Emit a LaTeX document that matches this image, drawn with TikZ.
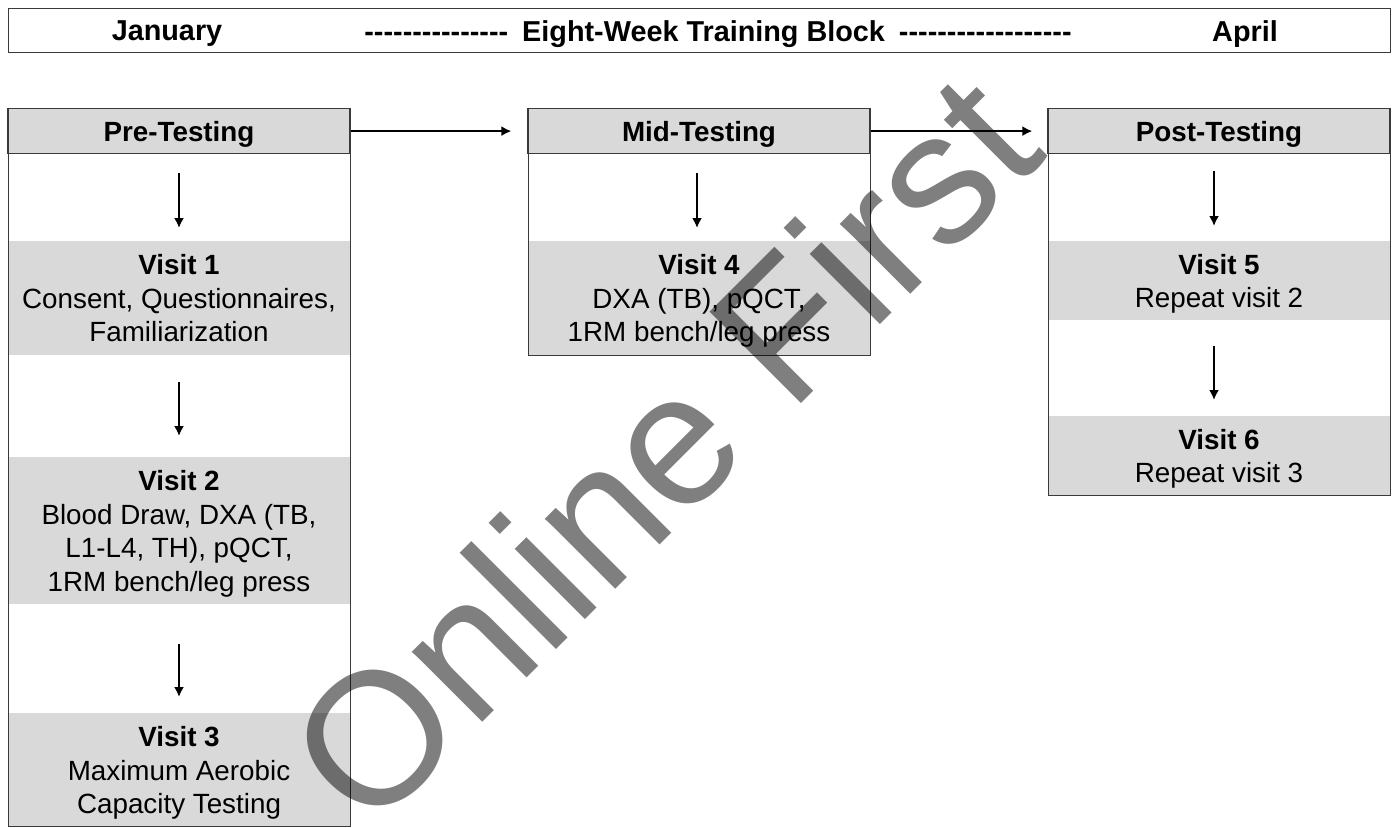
\documentclass[tikz,border=0pt]{standalone}
\usepackage{fontspec}
\setmainfont{Liberation Sans}
\usetikzlibrary{arrows.meta}
\definecolor{bandgray}{HTML}{D9D9D9}
\definecolor{edge}{HTML}{3A3A3A}
% a run of literal hyphens (kept apart so they are not joined into dashes)
\newcommand\dashrun[1]{\foreach \k in {1,...,#1}{\mbox{-}}}

\begin{document}
\begin{tikzpicture}[x=0.5pt,y=-0.5pt,
  every node/.style={inner sep=0pt, font=\fontsize{13.9}{16.75}\selectfont},
  band/.style={fill=bandgray, minimum width=171pt, align=center, anchor=north, text depth=0pt},
  hdr/.style={fill=bandgray, draw=edge, line width=0.6pt, minimum width=171pt, text depth=0pt,
    minimum height=22.5pt, anchor=north, font=\fontsize{13.9}{16.75}\selectfont\bfseries},
  colframe/.style={draw=edge, line width=0.6pt, minimum width=171pt, anchor=north west},
  arr/.style={line width=1pt, -{Latex[length=5pt,width=5pt]}},
  barlabel/.style={font=\fontsize{14.4}{17}\selectfont\bfseries, text depth=0pt},
]
\useasboundingbox (0,0) rectangle (1398,827);

% timeline bar
\node[draw=edge, line width=0.6pt, minimum width=691pt, minimum height=22pt,
  anchor=north west] (bar) at (8,8) {};
\node[barlabel] (jan) at (167,31) {January};
\node[barlabel] (block) at (718,31) {\dashrun{15}\hspace{7pt}Eight-Week Training Block\hspace{7pt}\dashrun{18}};
\node[barlabel] (apr) at (1245,31) {April};

% grey visit bands
\node[band, minimum height=57pt] (v1) at (179,241)
  {\textbf{Visit 1}\\Consent, Questionnaires,\\Familiarization};
\node[band, minimum height=73.5pt] (v2) at (179,457)
  {\textbf{Visit 2}\\Blood Draw, DXA (TB,\\L1-L4, TH), pQCT,\\1RM bench/leg press};
\node[band, minimum height=57pt] (v3) at (179,713)
  {\textbf{Visit 3}\\Maximum Aerobic\\Capacity Testing};
\node[band, minimum height=57pt] (v4) at (699,241)
  {\textbf{Visit 4}\\DXA (TB), pQCT,\\1RM bench/leg press};
\node[band, minimum height=39.5pt] (v5) at (1219,241)
  {\textbf{Visit 5}\\Repeat visit 2};
\node[band, minimum height=39.5pt] (v6) at (1219,416)
  {\textbf{Visit 6}\\Repeat visit 3};

% column frames
\node[colframe, minimum height=359pt] (prebox) at (8,108) {};
\node[colframe, minimum height=123.5pt] (midbox) at (528,108) {};
\node[colframe, minimum height=193.5pt] (postbox) at (1048,108) {};

% column headers
\node[hdr] (prehd) at (179,108) {Pre-Testing};
\node[hdr] (midhd) at (699,108) {Mid-Testing};
\node[hdr] (posthd) at (1219,108) {Post-Testing};

% flow between phases
\draw[arr, shorten >=8pt] (prehd.east) -- (midhd.west);
\draw[arr, shorten >=7.5pt] (midhd.east) -- (posthd.west);

% flow within each phase
\draw[arr, shorten <=9.5pt, shorten >=6.5pt] (prehd.south) -- (v1.north);
\draw[arr, shorten <=13pt, shorten >=10.5pt] (v1.south) -- (v2.north);
\draw[arr, shorten <=19.5pt, shorten >=8pt] (v2.south) -- (v3.north);
\draw[arr, shorten <=9.5pt, shorten >=6.5pt] ([xshift=-1pt]midhd.south) -- ([xshift=-1pt]v4.north);
\draw[arr, shorten <=8.5pt, shorten >=7.5pt] ([xshift=-2.5pt]posthd.south) -- ([xshift=-2.5pt]v5.north);
\draw[arr, shorten <=12.5pt, shorten >=8pt] ([xshift=-2.5pt]v5.south) -- ([xshift=-2.5pt]v6.north);

% watermark
\node[rotate=45, text=black, text opacity=0.5, font=\fontsize{94}{94}\selectfont]
  (wm) at (662,448) {Online First};
\end{tikzpicture}
\end{document}
